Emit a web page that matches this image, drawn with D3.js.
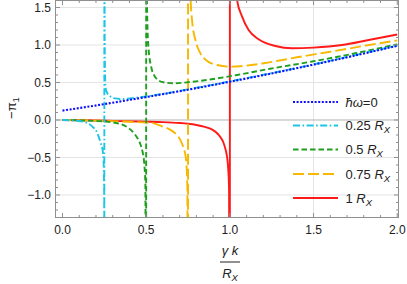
<!DOCTYPE html>
<html><head><meta charset="utf-8">
<script src="https://cdn.jsdelivr.net/npm/d3@7"></script>
<style>body{margin:0;background:#fff}svg{display:block}text{font-family:"Liberation Sans",Arial,sans-serif}</style>
</head><body>
<svg id="c" width="407" height="284"></svg>
<script>
const xTicks = [0, 0.5, 1.0, 1.5, 2.0];
const yTicks = [-1.0, -0.5, 0.0, 0.5, 1.0, 1.5];
const seriesNames = ["ħω=0", "0.25", "0.5", "0.75", "1"];

const blue = [[0,0.125],[0.25,0.212],[0.5,0.306],[0.75,0.404],[1.0,0.51],[1.25,0.621],[1.5,0.738],[1.75,0.861],[2.0,0.99]];
const cyan = [[0,0],[0.078,-0.009],[0.137,-0.031],[0.177,-0.085],[0.207,-0.17],[0.227,-0.3],[0.241,-0.42],[0.246,-0.6],[0.249,-1.0],[0.2499,-6],
  [0.2501,6],[0.252,1.2],[0.255,0.55],[0.258,0.42],[0.267,0.36],[0.28,0.325],[0.306,0.292],[0.356,0.28],[0.456,0.302],[0.595,0.347],[0.75,0.41],[1.0,0.515],[1.5,0.742],[2.0,0.995]];
const green = [[0,0],[0.1,-0.005],[0.2,-0.013],[0.26,-0.022],[0.32,-0.04],[0.35,-0.055],[0.386,-0.095],[0.41,-0.135],[0.43,-0.185],[0.45,-0.25],[0.465,-0.32],[0.478,-0.42],[0.488,-0.57],[0.495,-0.85],[0.4999,-6],
  [0.5001,6],[0.503,2.0],[0.507,1.3],[0.515,0.93],[0.53,0.71],[0.555,0.569],[0.58,0.52],[0.605,0.502],[0.664,0.489],[0.764,0.507],[0.903,0.547],[1.043,0.6],[1.232,0.68],[1.5,0.783],[1.75,0.89],[2.0,1.01]];
const yellow = [[0,0],[0.1,-0.003],[0.2,-0.008],[0.3,-0.015],[0.4,-0.024],[0.5,-0.035],[0.545,-0.045],[0.595,-0.085],[0.64,-0.125],[0.67,-0.17],[0.69,-0.215],[0.706,-0.275],[0.72,-0.35],[0.73,-0.42],[0.74,-0.57],[0.746,-0.9],[0.7499,-6],
  [0.7501,6],[0.755,3.5],[0.76,2.2],[0.764,1.7],[0.774,1.333],[0.794,1.067],[0.824,0.889],[0.864,0.787],[0.924,0.733],[1.003,0.711],[1.1,0.725],[1.202,0.756],[1.401,0.836],[1.6,0.91],[1.799,0.987],[2.0,1.062]];
const red = [[0,0],[0.2,-0.007],[0.35,-0.015],[0.5,-0.022],[0.6,-0.028],[0.7,-0.04],[0.75,-0.05],[0.8,-0.066],[0.85,-0.092],[0.9,-0.135],[0.93,-0.19],[0.95,-0.25],[0.963,-0.31],[0.975,-0.4],[0.983,-0.49],[0.99,-0.65],[0.995,-0.9],[0.9999,-6],
  [1.0001,6],[1.01,4],[1.02,2.6],[1.03,2.0],[1.043,1.6],[1.073,1.378],[1.112,1.2],[1.172,1.076],[1.272,0.987],[1.371,0.956],[1.5,0.965],[1.67,1.0],[1.829,1.067],[2.0,1.14]];

const svg = d3.select("#c");
const L = 55.5, R = 398.5, T = 0.5, B = 217.5;
const x = d3.scaleLinear().domain([-0.0418, 2.0075]).range([L, R]);
const y = d3.scaleLinear().domain([-1.3, 1.5933]).range([B, T]);
const frameCol = "#8f8f8f";

// grid
const g = svg.append("g");
g.selectAll(".gx").data([0.5,1.0,1.5]).join("line")
  .attr("x1", d=>x(d)).attr("x2", d=>x(d)).attr("y1", T).attr("y2", B)
  .attr("stroke", "#e4e4e4").attr("stroke-width", 1);
g.selectAll(".gy").data(yTicks.filter(d=>d!==0)).join("line")
  .attr("y1", d=>y(d)).attr("y2", d=>y(d)).attr("x1", L).attr("x2", R)
  .attr("stroke", "#e4e4e4").attr("stroke-width", 1);
g.append("line").attr("x1", L).attr("x2", R).attr("y1", y(0)).attr("y2", y(0))
  .attr("stroke", "#b4b4b4").attr("stroke-width", 1);

// clip
svg.append("clipPath").attr("id","clip").append("rect")
  .attr("x", L).attr("y", T).attr("width", R-L).attr("height", B-T);

const line = d3.line().x(d=>x(d[0])).y(d=>y(d[1])).curve(d3.curveMonotoneX);
const styles = [
  {data: blue,   color: "#1010ff", dash: "2,1.6", w: 2.1},
  {data: cyan,   color: "#1ec6e6", dash: "7,2.5,1.6,2.5", w: 1.9},
  {data: green,  color: "#1f9f1f", dash: "5.5,3", w: 1.9},
  {data: yellow, color: "#f7b800", dash: "11,4", w: 1.9},
  {data: red,    color: "#ff1a1a", dash: null, w: 1.9}
];
const pg = svg.append("g").attr("clip-path", "url(#clip)");
styles.slice().reverse().forEach(s => {
  pg.append("path").attr("d", line(s.data)).attr("fill","none")
    .attr("stroke", s.color).attr("stroke-width", s.w)
    .attr("stroke-dasharray", s.dash);
});

// frame
svg.append("rect").attr("x", L).attr("y", T).attr("width", R-L).attr("height", B-T)
  .attr("fill","none").attr("stroke", frameCol).attr("stroke-width", 1);

// ticks
const xMinor = d3.range(0, 2.001, 0.1).map(v=>+v.toFixed(2));
const yMinor = d3.range(-1.2, 1.6, 0.1).map(v=>+v.toFixed(2));
const isMajor = v => Math.abs(v*2 - Math.round(v*2)) < 1e-6;
const tk = svg.append("g").attr("stroke", frameCol).attr("stroke-width", 1);
xMinor.forEach(v => {
  const len = isMajor(v) ? 4.5 : 2.5;
  tk.append("line").attr("x1", x(v)).attr("x2", x(v)).attr("y1", B).attr("y2", B-len);
  tk.append("line").attr("x1", x(v)).attr("x2", x(v)).attr("y1", T).attr("y2", T+len);
});
yMinor.forEach(v => {
  const len = isMajor(v) ? 4.5 : 2.5;
  tk.append("line").attr("y1", y(v)).attr("y2", y(v)).attr("x1", L).attr("x2", L+len);
  tk.append("line").attr("y1", y(v)).attr("y2", y(v)).attr("x1", R).attr("x2", R-len);
});

// tick labels
const fmt = d3.format(".1f");
svg.selectAll(".xl").data(xTicks).join("text")
  .attr("x", d=>x(d)).attr("y", 234).attr("text-anchor","middle")
  .attr("font-size", 12).attr("fill", "#222").text(d=>fmt(d));
svg.selectAll(".yl").data(yTicks).join("text")
  .attr("x", 51).attr("y", d=>y(d)+4.2).attr("text-anchor","end")
  .attr("font-size", 12).attr("fill", "#222").text(d=>fmt(d).replace("-", "−"));

// y label
const yl = svg.append("text").attr("transform", "translate(16,108) rotate(-90)")
  .attr("text-anchor","middle").attr("font-size", 13).attr("fill","#222");
yl.append("tspan").text("−π");
yl.append("tspan").attr("font-size", 9.5).attr("dy", 3).text("1");

// x label (fraction)
const cx = 230;
svg.append("text").attr("x", cx).attr("y", 255).attr("text-anchor","middle")
  .attr("font-size", 13).attr("font-style","italic").attr("fill","#222").text("γ k");
svg.append("line").attr("x1", cx-10).attr("x2", cx+10).attr("y1", 262).attr("y2", 262)
  .attr("stroke", "#222").attr("stroke-width", 1);
const t2 = svg.append("text").attr("x", cx).attr("y", 278).attr("text-anchor","middle")
  .attr("font-size", 13).attr("font-style","italic").attr("fill","#222");
t2.append("tspan").text("R");
t2.append("tspan").attr("font-size", 9.5).attr("dy", 3).text("X");

// legend
const ly = [102, 125.5, 149.5, 174, 198];
styles.forEach((s, i) => {
  svg.append("line").attr("x1", 293).attr("x2", 338).attr("y1", ly[i]).attr("y2", ly[i])
    .attr("stroke", s.color).attr("stroke-width", s.w).attr("stroke-dasharray", s.dash);
  const t = svg.append("text").attr("x", 345.5).attr("y", ly[i]+4.5)
    .attr("font-size", 13).attr("fill", "#222");
  if (i === 0) {
    t.append("tspan").attr("font-style","italic").text("ħω");
    t.append("tspan").text("=0");
  } else {
    t.append("tspan").text(seriesNames[i] + " ");
    t.append("tspan").attr("font-style","italic").text("R");
    t.append("tspan").attr("font-style","italic").attr("font-size", 9.5).attr("dy", 3).text("X");
  }
});
</script>
</body></html>
